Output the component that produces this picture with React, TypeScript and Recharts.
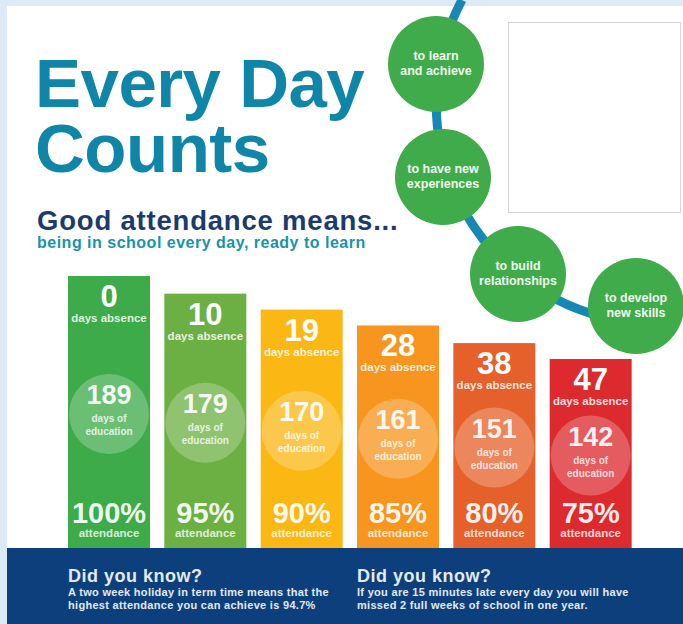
import React from "react";
import { BarChart, Bar, XAxis, YAxis } from "recharts";

// attendance data, one entry per bar
const absenceDays = [0, 10, 19, 28, 38, 47];
const educationDays = [189, 179, 170, 161, 151, 142];
const attendancePct = [100, 95, 90, 85, 80, 75];
const barColors = ["#3dab4a", "#6cb043", "#fbb714", "#f7951f", "#e6602b", "#dd2a2f"];

// reasons around the blue arc
const reasons = [
    ["to learn", "and achieve"],
    ["to have new", "experiences"],
    ["to build", "relationships"],
    ["to develop", "new skills"],
];
const reasonCentres = [
    [436, 64],
    [443, 177],
    [518, 274],
    [636, 306],
];

const facts = [
    ["A two week holiday in term time means that the", "highest attendance you can achieve is 94.7%"],
    ["If you are 15 minutes late every day you will have", "missed 2 full weeks of school in one year."],
];

const FONT = '"Liberation Sans", Arial, Helvetica, sans-serif';

const chartData = educationDays.map((d, i) => ({
    name: `bar-${i}`,
    days: d,
    absence: absenceDays[i],
    pct: attendancePct[i],
}));

const BarShape = (props: any) => {
    const { x, y, width, height, payload, index } = props;
    const cx = x + width / 2;
    const bottom = y + height;
    const cy = (y + bottom) / 2 + 2;
    return (
        <g fontFamily={FONT} fontWeight="bold" textAnchor="middle">
            <rect x={x} y={y} width={width} height={height} fill={barColors[index]} />
            <text x={cx} y={y + 31} fontSize={31} fill="#ffffff">{payload.absence}</text>
            <text x={cx} y={y + 46} fontSize={11.5} fill="#ffffff" fillOpacity={0.85}>days absence</text>
            <circle cx={cx} cy={cy} r={40} fill="#ffffff" fillOpacity={0.24} />
            <text x={cx} y={cy - 10} fontSize={27} fill="#ffffff" fillOpacity={0.92}>{payload.days}</text>
            <text x={cx} y={cy + 8} fontSize={10} fill="#ffffff" fillOpacity={0.8}>days of</text>
            <text x={cx} y={cy + 21} fontSize={10} fill="#ffffff" fillOpacity={0.8}>education</text>
            <text x={cx} y={bottom - 25} fontSize={29} fill="#ffffff" fillOpacity={0.92}>{payload.pct}%</text>
            <text x={cx} y={bottom - 11} fontSize={11.5} fill="#ffffff" fillOpacity={0.8}>attendance</text>
        </g>
    );
};

export default function App() {
    return (
        <div style={{ position: "absolute", left: 0, top: 0, width: 683, height: 624, background: "#dce9f6", overflow: "hidden", fontFamily: FONT }}>
            <div style={{ position: "absolute", left: 7, top: 6, width: 676, height: 542, background: "#ffffff" }} />
            <div style={{ position: "absolute", left: 7, top: 548, width: 676, height: 76, background: "#0c3f7c" }} />

            <svg width={683} height={624} style={{ position: "absolute", left: 0, top: 0 }}>
                <rect x={508.5} y={22.5} width={172} height={190} fill="#ffffff" stroke="#d4d4d4" />
                <path d="M 462 0 A 220 220 0 0 0 600 316" fill="none" stroke="#1788b4" strokeWidth={9} />
                {reasons.map((lines, i) => (
                    <g key={i} fontFamily={FONT} fontWeight="bold" textAnchor="middle">
                        <circle cx={reasonCentres[i][0]} cy={reasonCentres[i][1]} r={48} fill="#3fab4b" />
                        <text x={reasonCentres[i][0]} y={reasonCentres[i][1] - 4} fontSize={12.5} fill="#f2f8ee">{lines[0]}</text>
                        <text x={reasonCentres[i][0]} y={reasonCentres[i][1] + 11} fontSize={12.5} fill="#f2f8ee">{lines[1]}</text>
                    </g>
                ))}
                <g fontFamily={FONT} fontWeight="bold">
                    <text x={35} y={107} fontSize={69} fill="#0f86a7" letterSpacing={-0.5}>Every Day</text>
                    <text x={35} y={172} fontSize={69} fill="#0f86a7" letterSpacing={-0.5}>Counts</text>
                    <text x={37} y={230} fontSize={27.5} fill="#1c3b6d" letterSpacing={0.8}>Good attendance means...</text>
                    <text x={37} y={248} fontSize={16} fill="#1893a9" letterSpacing={0.5}>being in school every day, ready to learn</text>
                </g>
                {facts.map((lines, i) => (
                    <g key={i} fontFamily={FONT} fontWeight="bold" fill="#e3eaf3">
                        <text x={68 + i * 289} y={582} fontSize={18} letterSpacing={0.5}>Did you know?</text>
                        <text x={68 + i * 289} y={596} fontSize={11} letterSpacing={0.3}>{lines[0]}</text>
                        <text x={68 + i * 289} y={609} fontSize={11} letterSpacing={0.3}>{lines[1]}</text>
                    </g>
                ))}
            </svg>

            <div style={{ position: "absolute", left: 0, top: 0 }}>
                <BarChart
                    width={683}
                    height={624}
                    data={chartData}
                    margin={{ top: 276, right: 44, bottom: 76, left: 61 }}
                    barSize={82}
                >
                    <XAxis dataKey="name" hide />
                    <YAxis hide domain={[35, 189]} />
                    <Bar dataKey="days" isAnimationActive={false} shape={(p: any) => <BarShape {...p} />} />
                </BarChart>
            </div>
        </div>
    );
}
